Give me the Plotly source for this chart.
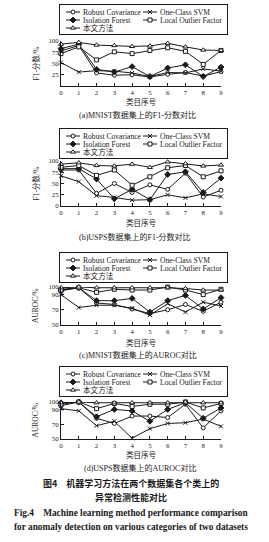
import plotly.graph_objects as go

# ---------------- data ----------------
categories = [0, 1, 2, 3, 4, 5, 6, 7, 8, 9]
series_names = ["Robust Covariance", "One-Class SVM", "Isolation Forest",
                "Local Outlier Factor", "本文方法"]

# (a) MNIST F1 (%)
mnist_f1_rc = [78, 90, 29, 24, 25, 20, 26, 30, 22, 32]
mnist_f1_svm = [52, 31, 34, 33, 29, 21, 30, 29, 38, 33]
mnist_f1_if = [83, 93, 37, 31, 43, 21, 40, 47, 21, 42]
mnist_f1_lof = [72, 87, 58, 76, 72, 79, 85, 77, 48, 79]
mnist_f1_ours = [93, 97, 91, 90, 88, 89, 95, 87, 80, 79]

# (b) USPS F1 (%)
usps_f1_rc = [80, 80, 28, 50, 30, 47, 37, 73, 20, 35]
usps_f1_svm = [67, 54, 23, 19, 13, 14, 25, 18, 27, 21]
usps_f1_if = [83, 83, 60, 16, 37, 14, 70, 76, 30, 62]
usps_f1_lof = [86, 90, 68, 80, 46, 65, 85, 90, 65, 78]
usps_f1_ours = [93, 96, 90, 89, 93, 86, 98, 94, 89, 91]

# (c) MNIST AUROC (%)
mnist_auc_rc = [97, 99, 79, 77, 71, 65, 70, 77, 68, 80]
mnist_auc_svm = [90, 73, 76, 76, 72, 63, 78, 67, 80, 75]
mnist_auc_if = [95, 99, 82, 82, 85, 67, 82, 89, 71, 86]
mnist_auc_lof = [96, 99, 93, 97, 96, 96, 100, 96, 90, 97]
mnist_auc_ours = [99, 100, 99, 99, 99, 99, 99, 98, 96, 96]

# (d) USPS AUROC (%)
usps_auc_rc = [95, 100, 78, 71, 81, 81, 79, 97, 65, 88]
usps_auc_svm = [91, 88, 68, 74, 51, 64, 71, 72, 77, 67]
usps_auc_if = [99, 100, 80, 90, 88, 74, 90, 99, 78, 92]
usps_auc_lof = [97, 100, 91, 98, 94, 97, 97, 100, 92, 98]
usps_auc_ours = [99, 100, 99, 99, 99, 99, 99, 100, 99, 99]

panel_captions = ["(a)MNIST数据集上的F1-分数对比", "(b)USPS数据集上的F1-分数对比",
                  "(c)MNIST数据集上的AUROC对比", "(d)USPS数据集上的AUROC对比"]
y_titles = ["F1-分数/%", "F1-分数/%", "AUROC/%", "AUROC/%"]
x_title = "类目序号"
yticks_a = [25, 50, 75, 100]
yticks_b = [0, 25, 50, 75, 100]
yticks_auc = [50, 70, 90, 100]
fig_caption_cn = ["图4\u3000机器学习方法在两个数据集各个类上的", "异常检测性能对比"]
fig_caption_en = ["Fig.4\u00a0\u00a0\u00a0\u00a0Machine learning method performance comparison",
                  "for anomaly detection on various categories of two datasets"]

panels = [
    [mnist_f1_rc, mnist_f1_svm, mnist_f1_if, mnist_f1_lof, mnist_f1_ours],
    [usps_f1_rc, usps_f1_svm, usps_f1_if, usps_f1_lof, usps_f1_ours],
    [mnist_auc_rc, mnist_auc_svm, mnist_auc_if, mnist_auc_lof, mnist_auc_ours],
    [usps_auc_rc, usps_auc_svm, usps_auc_if, usps_auc_lof, usps_auc_ours],
]
y_ranges = [[0, 100], [0, 100], [50, 100], [50, 100]]
y_ticks = [yticks_a, yticks_b, yticks_auc, yticks_auc]

# ---------------- styling / geometry ----------------
W, H = 269, 542
SERIF = "Liberation Serif, Times New Roman, Noto Sans CJK SC, serif"
CJK = "Noto Sans CJK SC, sans-serif"
INK = "#1a1a1a"
symbols = ["circle", "x-thin", "diamond", "square", "triangle-up"]
fills = ["white", INK, INK, "white", "white"]
sizes = [4, 4, 4.5, 4, 4.5]

plot_x0, plot_x1 = 61, 221
panel_px = [(41, 86), (161, 206), (287, 325), (402, 439)]
legend_top = [4, 128, 252, 366]
xtitle_y = [102, 223, 343, 455]
caption_y = [115, 237, 355, 468]
caption_x = [137, 135, 138, 140]

def px(x):
    return x / W

def py(y):
    return 1 - y / H

fig = go.Figure()
layout = dict(
    width=W, height=H,
    margin=dict(l=0, r=0, t=0, b=0, autoexpand=False),
    paper_bgcolor="white", plot_bgcolor="white",
    font=dict(family=SERIF, size=7, color=INK),
    showlegend=True,
)
annotations = []

for p in range(4):
    sfx = "" if p == 0 else str(p + 1)
    xa, ya = "x" + sfx, "y" + sfx
    leg = "legend" + sfx
    for s in range(5):
        fig.add_trace(go.Scatter(
            x=categories, y=panels[p][s], name=series_names[s],
            mode="lines+markers", xaxis=xa, yaxis=ya, legend=leg,
            cliponaxis=False,
            line=dict(color=INK, width=1),
            marker=dict(symbol=symbols[s], size=sizes[s], color=fills[s],
                        line=dict(color=INK, width=1)),
        ))
    top, bot = panel_px[p]
    axis_common = dict(
        ticks="inside", ticklen=3, tickwidth=1, tickcolor=INK,
        showline=True, linecolor=INK, linewidth=1,
        showgrid=False, zeroline=False, fixedrange=True,
        tickfont=dict(size=6.8, family=SERIF),
    )
    layout["xaxis" + sfx] = dict(
        domain=[px(plot_x0), px(plot_x1)], range=[0, 9], anchor=ya,
        tickvals=categories, **axis_common,
    )
    layout["yaxis" + sfx] = dict(
        domain=[py(bot), py(top)], range=y_ranges[p], anchor=xa,
        tickvals=y_ticks[p], **axis_common,
    )
    layout[leg] = dict(
        orientation="h", x=px(59), y=py(legend_top[p]),
        xanchor="left", yanchor="top",
        bgcolor="white", bordercolor=INK, borderwidth=1,
        font=dict(size=7.6, family=SERIF, color=INK),
    )
    annotations.append(dict(
        text=y_titles[p], x=px(35), y=py((top + bot) / 2), xref="paper", yref="paper",
        textangle=-90, showarrow=False, xanchor="center", yanchor="middle",
        font=dict(size=7.5, family=SERIF),
    ))
    annotations.append(dict(
        text=x_title, x=px((plot_x0 + plot_x1) / 2), y=py(xtitle_y[p]),
        xref="paper", yref="paper", showarrow=False,
        xanchor="center", yanchor="middle", font=dict(size=7.5, family=SERIF),
    ))
    annotations.append(dict(
        text=panel_captions[p], x=px(caption_x[p]), y=py(caption_y[p]),
        xref="paper", yref="paper", showarrow=False,
        xanchor="center", yanchor="middle", font=dict(size=8, family=SERIF),
    ))

for t, yy in zip(fig_caption_cn, [483, 497]):
    annotations.append(dict(
        text="<b>" + t + "</b>", x=px(131), y=py(yy), xref="paper", yref="paper",
        showarrow=False, xanchor="center", yanchor="middle",
        font=dict(size=9, family=CJK, color=INK),
    ))
for t, yy in zip(fig_caption_en, [513, 527]):
    annotations.append(dict(
        text="<b>" + t + "</b>", x=px(131), y=py(yy), xref="paper", yref="paper",
        showarrow=False, xanchor="center", yanchor="middle",
        font=dict(size=9.3, family=SERIF, color=INK),
    ))

layout["annotations"] = annotations
fig.update_layout(**layout)

# compact the legend boxes to the reference's tight 2-column layout
post_js = """
var gd = document.getElementById('{plot_id}');
function fixLegends(){
  var lgs = gd.querySelectorAll('g.infolayer > g');
  lgs.forEach(function(lg){
    var cls = lg.getAttribute('class') || '';
    if (cls.indexOf('legend') !== 0) return;
    var items = lg.querySelectorAll('g.traces');
    items.forEach(function(it, i){
      var col = i % 2, row = Math.floor(i / 2);
      it.setAttribute('transform', 'translate(' + (col * 77) + ',' + (8 + row * 8) + ')');
      it.querySelectorAll('g.legendlines path').forEach(function(p){ p.setAttribute('d', 'M7,0h14'); });
      it.querySelectorAll('g.legendpoints path').forEach(function(p){ p.setAttribute('transform', 'translate(14,0)'); });
      it.querySelectorAll('text').forEach(function(t){
        t.setAttribute('x', '24');
        t.querySelectorAll('tspan').forEach(function(s){
          if (s.getAttribute('x') !== null) s.setAttribute('x', '24');
        });
      });
      var r = it.querySelector('rect.legendtoggle');
      if (r) { r.setAttribute('height', 8); r.setAttribute('y', -4); r.setAttribute('width', 76); }
    });
    var bg = lg.querySelector('rect.bg');
    if (bg) { bg.setAttribute('width', 168); bg.setAttribute('height', 30); }
  });
}
fixLegends();
setTimeout(fixLegends, 20);
setTimeout(fixLegends, 150);
if (gd.on) { gd.on('plotly_afterplot', function(){ setTimeout(fixLegends, 0); }); }
"""

fig.write_html("out.html", post_script=post_js, config={"displayModeBar": False})
